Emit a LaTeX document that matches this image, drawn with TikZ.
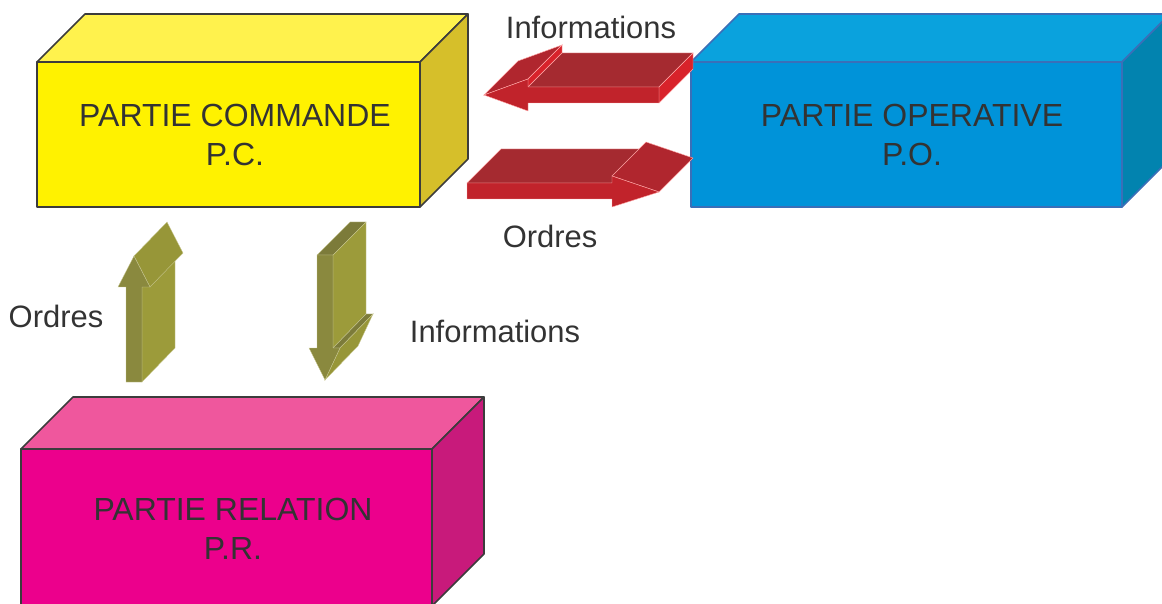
\documentclass[tikz,border=0pt]{standalone}
\usepackage{fontspec}
\setmainfont{Liberation Sans}

\definecolor{pcfront}{HTML}{FFF200}
\definecolor{pctop}{HTML}{FFF24D}
\definecolor{pcside}{HTML}{D6BF2A}
\definecolor{pcedge}{HTML}{3C3C3C}
\definecolor{pofront}{HTML}{0093D9}
\definecolor{potop}{HTML}{0AA2DD}
\definecolor{poside}{HTML}{0283AF}
\definecolor{poedge}{HTML}{3A6FB8}
\definecolor{prfront}{HTML}{EC008C}
\definecolor{prtop}{HTML}{EF579D}
\definecolor{prside}{HTML}{C81A7B}
\definecolor{predge}{HTML}{3C3C3C}
\definecolor{redfront}{HTML}{C1232B}
\definecolor{redtop}{HTML}{A52A30}
\definecolor{redhead}{HTML}{B0262E}
\definecolor{redlight}{HTML}{D8222A}
\definecolor{olivefront}{HTML}{8A893E}
\definecolor{oliveside}{HTML}{9C9B3A}
\definecolor{olivehead}{HTML}{979638}
\definecolor{olivetop}{HTML}{7C7B3A}
\definecolor{txt}{HTML}{333333}

\tikzset{
  lbl/.style={inner sep=0pt, text=txt, font=\fontsize{17.6}{21.5}\selectfont},
  boxlbl/.style={lbl, align=center, font=\fontsize{18.2}{22}\selectfont},
  face/.style={line width=0.9pt, line join=round},
  redface/.style={draw=red!35!white, line width=0.25pt},
  oliveface/.style={draw=oliveside!55!white, line width=0.2pt}
}

\begin{document}
\begin{tikzpicture}[x=0.02cm, y=-0.02cm]
\useasboundingbox (0,0) rectangle (1162,604);
\clip (0,0) rectangle (1162,604);

%%%%%%%%%%%% Boxes
\foreach \x/\y/\w/\h/\d/\c in {37/62/383/145/48/pc, 691/62/431/145/48/po, 21/449/411/157/52/pr} {
  \filldraw[face, fill=\c top, draw=\c edge] (\x,\y) -- ++(\d,-\d) -- ++(\w,0) -- ++(-\d,\d) -- cycle;
  \filldraw[face, fill=\c side, draw=\c edge] (\x+\w,\y) -- ++(\d,-\d) -- ++(0,\h) -- ++(-\d,\d) -- cycle;
  \filldraw[face, fill=\c front, draw=\c edge] (\x,\y) rectangle ++(\w,\h);
}

\node[boxlbl] (pc) at (235,135) {PARTIE COMMANDE\\P.C.};
\node[boxlbl] (po) at (912,135) {PARTIE OPERATIVE\\P.O.};
\node[boxlbl] (pr) at (233,529) {PARTIE RELATION\\P.R.};

%%%%%%%%%%%% Red arrows (P.O. <-> P.C.)
\begin{scope}[redface]
  % informations
  \filldraw[fill=redhead] (484,95) -- (528,79) -- (562,45) -- (518,61) -- cycle;
  \filldraw[fill=redlight] (528,79) -- (528,87) -- (562,53) -- (562,45) -- cycle;
  \filldraw[fill=redtop] (528,87) -- (659,87) -- (693,53) -- (562,53) -- cycle;
  \filldraw[fill=redlight] (659,87) -- (659,103) -- (693,69) -- (693,53) -- cycle;
  \filldraw[fill=redfront] (484,95) -- (528,79) -- (528,87) -- (659,87) -- (659,103)
    -- (528,103) -- (528,111) -- cycle;
  % ordres
  \filldraw[fill=redtop] (467,183) -- (612,183) -- (646,149) -- (501,149) -- cycle;
  \filldraw[fill=redhead] (612,176) -- (659,192) -- (693,158) -- (646,142) -- cycle;
  \filldraw[fill=redfront] (467,183) -- (612,183) -- (612,176) -- (659,192) -- (612,207)
    -- (612,199) -- (467,199) -- cycle;
\end{scope}

%%%%%%%%%%%% Olive arrows (P.R. <-> P.C.)
\begin{scope}[oliveface]
  % ordres
  \filldraw[fill=oliveside] (142,287) -- (142,382) -- (175,348) -- (175,253) -- cycle;
  \filldraw[fill=olivehead] (134,256) -- (150,287) -- (183,253) -- (167,222) -- cycle;
  \filldraw[fill=olivefront] (126,382) -- (126,287) -- (118,287) -- (134,256) -- (150,287)
    -- (142,287) -- (142,382) -- cycle;
  % informations
  \filldraw[fill=olivetop] (317,255) -- (333,255) -- (366,222) -- (350,222) -- cycle;
  \filldraw[fill=oliveside] (333,255) -- (366,222) -- (366,314) -- (333,348) -- cycle;
  \filldraw[fill=olivetop] (333,348) -- (340,348) -- (373,314) -- (366,314) -- cycle;
  \filldraw[fill=olivehead] (340,348) -- (325,380) -- (358,346) -- (373,314) -- cycle;
  \filldraw[fill=olivefront] (317,255) -- (333,255) -- (333,348) -- (340,348) -- (325,380)
    -- (309,348) -- (317,348) -- cycle;
\end{scope}

%%%%%%%%%%%% Labels
\node[lbl] (inftop) at (591,27) {Informations};
\node[lbl] (ordtop) at (550,236) {Ordres};
\node[lbl] (ordleft) at (56,316) {Ordres};
\node[lbl] (infleft) at (495,331) {Informations};
\end{tikzpicture}
\end{document}
